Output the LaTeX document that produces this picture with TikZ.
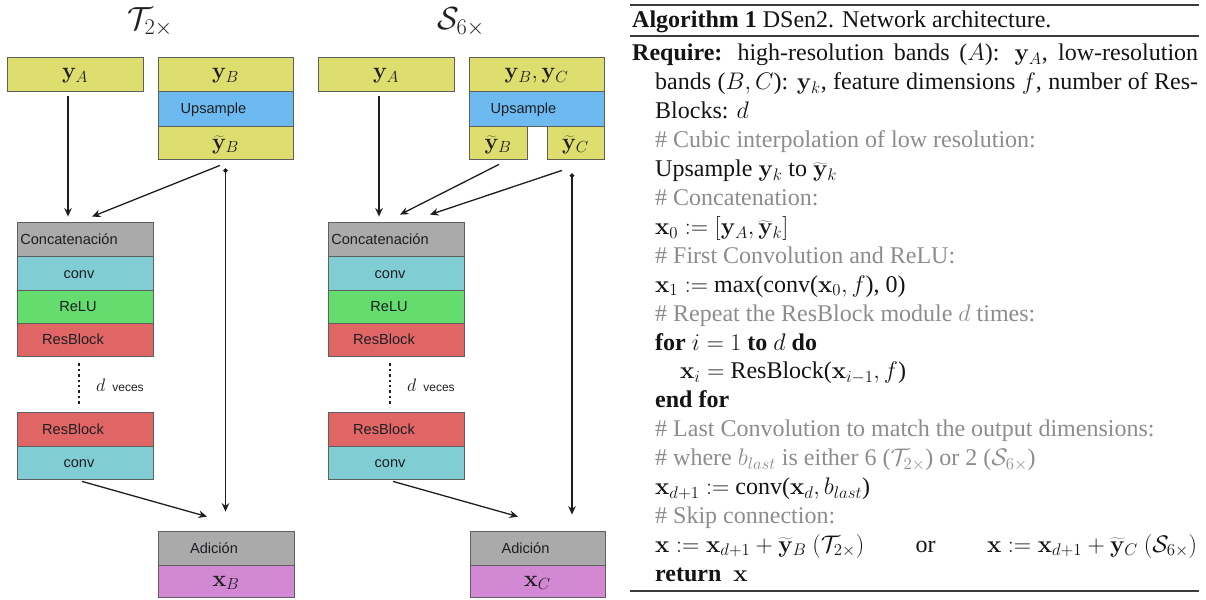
\RequirePackage{fix-cm}
\documentclass[tikz,border=0pt]{standalone}
\usepackage[no-math]{fontspec}
\newfontfamily\tnr{Liberation Serif}
\newfontfamily\arial{Liberation Sans}
\usetikzlibrary{arrows.meta,calc}
\definecolor{yel}{RGB}{222,222,110}
\definecolor{blu}{RGB}{108,186,240}
\definecolor{gry}{RGB}{170,170,170}
\definecolor{tea}{RGB}{128,206,212}
\definecolor{grn}{RGB}{100,221,110}
\definecolor{rdd}{RGB}{224,102,102}
\definecolor{pur}{RGB}{210,136,210}
\definecolor{bord}{RGB}{95,95,95}
\definecolor{txt}{RGB}{30,30,35}
\definecolor{arrc}{RGB}{30,30,30}
\definecolor{algc}{RGB}{20,20,20}
\definecolor{cmtc}{RGB}{140,140,140}
\definecolor{rulc}{RGB}{60,60,60}
\begin{document}
\begin{tikzpicture}[x=1pt,y=-1pt,
  box/.style={draw=bord,line width=0.8pt,inner sep=0pt,minimum width=136pt,minimum height=34pt},
  sl/.style={font=\arial\fontsize{14.6}{16}\selectfont,text=txt,text height=10.5pt,text depth=0pt},
  ml/.style={font=\fontsize{23}{26}\selectfont,text=txt,text height=10pt,text depth=0pt},
  mlt/.style={ml,text height=13pt},
  arr/.style={line width=1.3pt,draw=arrc,-{Stealth[length=8.5pt,width=7.5pt]}},
  skp/.style={line width=1.3pt,draw=arrc,{Circle[length=4.5pt]}-{Stealth[length=8.5pt,width=7.5pt]}},
  dots/.style={line width=2pt,draw=arrc,dash pattern=on 2.4pt off 3pt},
  alg/.style={anchor=base west,inner sep=0pt,font=\tnr\fontsize{24}{28.9}\selectfont,text=algc},
  cmt/.style={alg,text=cmtc},
  ttl/.style={font=\fontsize{32}{36}\selectfont,inner sep=0pt,text=txt},
  dv/.style={anchor=base west,inner sep=0pt,text=txt},
  rul/.style={line width=1.6pt,draw=rulc}]
\useasboundingbox (0,0) rectangle (1206,599);

% ---------------- Left diagram ----------------
\node[ttl] (LT) at (150,22) {$\mathcal{T}_{2\times}$};
\node[box,fill=yel,ml] (LyA) at (75,74) {$\mathbf{y}_A$};
\node[box,fill=yel,minimum width=135pt,ml] (LyB) at (225.5,74) {$\mathbf{y}_B$};
\node[box,fill=blu,minimum width=135pt,minimum height=35pt,sl] (Lup) at (225.5,108.5) {Upsample\hspace*{24pt}};
\node[box,fill=yel,minimum width=135pt,minimum height=33pt,mlt] (LtB) at (225.5,142.5) {$\widetilde{\mathbf{y}}_B$};

\node[box,fill=gry,sl] (Lcat) at (85,239) {Concatenación\hspace*{32pt}};
\node[box,fill=tea,sl] (Lc1) at (85,273) {conv\hspace*{12pt}};
\node[box,fill=grn,minimum height=33pt,sl] (Lrl) at (85,306.5) {ReLU\hspace*{14pt}};
\node[box,fill=rdd,minimum height=33pt,sl] (Lr1) at (85,339.5) {ResBlock\hspace*{24pt}};
\node[dv] (Ldv) at (96,391) {\fontsize{18}{20}\selectfont$d$\hspace{7pt}{\arial\fontsize{12}{14}\selectfont veces}};
\node[box,fill=rdd,sl] (Lr2) at (85,429) {ResBlock\hspace*{24pt}};
\node[box,fill=tea,minimum height=33pt,sl] (Lc2) at (85,462.5) {conv\hspace*{12pt}};

\node[box,fill=gry,sl] (Lad) at (226,548) {Adición\hspace*{24pt}};
\node[box,fill=pur,minimum height=32pt,ml] (LxB) at (226,581) {$\mathbf{x}_B$};

\draw[arr] ($(LyA.south)+(-7,5)$) -- ($(Lcat.north)+(-17,-5)$);
\draw[arr] ($(LtB.south)+(-5.5,6)$) -- ($(Lcat.north)+(7,-5)$);
\draw[skp] ($(LtB.south)+(0,9)$) -- ($(LtB.south |- Lad.north)+(0,-19)$);
\draw[arr] ($(Lc2.south)+(-3,2)$) -- ($(Lad.north)+(-19,-14)$);
\draw[dots] ($(Lr1.south)+(-6,7)$) -- ($(Lr2.north)+(-6,-5)$);

% ---------------- Right diagram ----------------
\node[ttl] (RT) at (461,22) {$\mathcal{S}_{6\times}$};
\node[box,fill=yel,ml] (RyA) at (386,74) {$\mathbf{y}_A$};
\node[box,fill=yel,minimum width=135pt,ml] (RyB) at (536.5,74) {$\mathbf{y}_B,\mathbf{y}_C$};
\node[box,fill=blu,minimum width=135pt,minimum height=35pt,sl] (Rup) at (536.5,108.5) {Upsample\hspace*{26pt}};
\node[box,fill=yel,minimum width=58pt,minimum height=33pt,mlt] (RtB) at (498,142.5) {$\widetilde{\mathbf{y}}_B$};
\node[box,fill=yel,minimum width=57pt,minimum height=33pt,mlt] (RtC) at (575.5,142.5) {$\widetilde{\mathbf{y}}_C$};

\node[box,fill=gry,sl] (Rcat) at (396,239) {Concatenación\hspace*{32pt}};
\node[box,fill=tea,sl] (Rc1) at (396,273) {conv\hspace*{12pt}};
\node[box,fill=grn,minimum height=33pt,sl] (Rrl) at (396,306.5) {ReLU\hspace*{14pt}};
\node[box,fill=rdd,minimum height=33pt,sl] (Rr1) at (396,339.5) {ResBlock\hspace*{24pt}};
\node[dv] (Rdv) at (407,391) {\fontsize{18}{20}\selectfont$d$\hspace{7pt}{\arial\fontsize{12}{14}\selectfont veces}};
\node[box,fill=rdd,sl] (Rr2) at (396,429) {ResBlock\hspace*{24pt}};
\node[box,fill=tea,minimum height=33pt,sl] (Rc2) at (396,462.5) {conv\hspace*{12pt}};

\node[box,fill=gry,minimum width=135pt,sl] (Rad) at (537.5,548) {Adición\hspace*{24pt}};
\node[box,fill=pur,minimum width=135pt,minimum height=32pt,ml] (RxC) at (537.5,581) {$\mathbf{x}_C$};

\draw[arr] ($(RyA.south)+(-7,5)$) -- ($(Rcat.north)+(-17,-5)$);
\draw[arr] ($(RtB.south)+(1,5)$) -- ($(Rcat.north)+(4,-7)$);
\draw[arr] ($(RtC.south)+(-13.5,11)$) -- ($(Rcat.north)+(34,-7)$);
\draw[skp] ($(RtC.south)+(-3.5,14)$) -- ($(RtC.south |- Rad.north)+(-3.5,-16)$);
\draw[arr] ($(Rc2.south)+(-3,2)$) -- ($(Rad.north)+(-19.5,-14)$);
\draw[dots] ($(Rr1.south)+(-6,7)$) -- ($(Rr2.north)+(-6,-5)$);

% ---------------- Algorithm ----------------
\draw[rul] (630,5) -- (1199,5);
\draw[rul] (630,36) -- (1199,36);
\draw[rul] (630,591) -- (1199,591);
\node[alg] (a00) at (632,28) {\textbf{Algorithm 1} DSen2. Network architecture.};
\node[alg] (a0) at (632,61) {\makebox[566pt][s]{\textbf{Require:} high-resolution bands ($A$): $\mathbf{y}_A$, low-resolution}};
\node[alg] (a1) at (655,89.9) {\makebox[543pt][s]{bands ($B,C$): $\mathbf{y}_k$, feature dimensions $f$, number of Res-}};
\node[alg] (a2) at (655,118.8) {Blocks: $d$};
\node[cmt] (a3) at (655,147.7) {\# Cubic interpolation of low resolution:};
\node[alg] (a4) at (655,176.6) {Upsample $\mathbf{y}_k$ to $\widetilde{\mathbf{y}}_k$};
\node[cmt] (a5) at (655,205.5) {\# Concatenation:};
\node[alg] (a6) at (655,234.4) {$\mathbf{x}_0 := [\mathbf{y}_A, \widetilde{\mathbf{y}}_k]$};
\node[cmt] (a7) at (655,263.3) {\# First Convolution and ReLU:};
\node[alg] (a8) at (655,292.2) {$\mathbf{x}_1 :=$ max(conv($\mathbf{x}_0, f$), 0)};
\node[cmt] (a9) at (655,321.1) {\# Repeat the ResBlock module $d$ times:};
\node[alg] (a10) at (655,350) {\textbf{for} $i = 1$ \textbf{to} $d$ \textbf{do}};
\node[alg] (a11) at (680,378.9) {$\mathbf{x}_i =$ ResBlock($\mathbf{x}_{i-1}, f$)};
\node[alg] (a12) at (655,407.8) {\textbf{end for}};
\node[cmt] (a13) at (655,436.7) {\# Last Convolution to match the output dimensions:};
\node[cmt] (a14) at (655,465.6) {\# where $b_{last}$ is either 6 ($\mathcal{T}_{2\times}$) or 2 ($\mathcal{S}_{6\times}$)};
\node[alg] (a15) at (655,494.5) {$\mathbf{x}_{d+1} :=$ conv($\mathbf{x}_d, b_{last}$)};
\node[cmt] (a16) at (655,523.4) {\# Skip connection:};
\node[alg] (a17) at (655,552.3) {\makebox[542pt][l]{$\mathbf{x} := \mathbf{x}_{d+1} + \widetilde{\mathbf{y}}_B\ (\mathcal{T}_{2\times})$\hfill or\hfill $\mathbf{x} := \mathbf{x}_{d+1} + \widetilde{\mathbf{y}}_C\ (\mathcal{S}_{6\times})$}};
\node[alg] (a18) at (655,581.2) {\textbf{return}\ \ $\mathbf{x}$};
\end{tikzpicture}
\end{document}
